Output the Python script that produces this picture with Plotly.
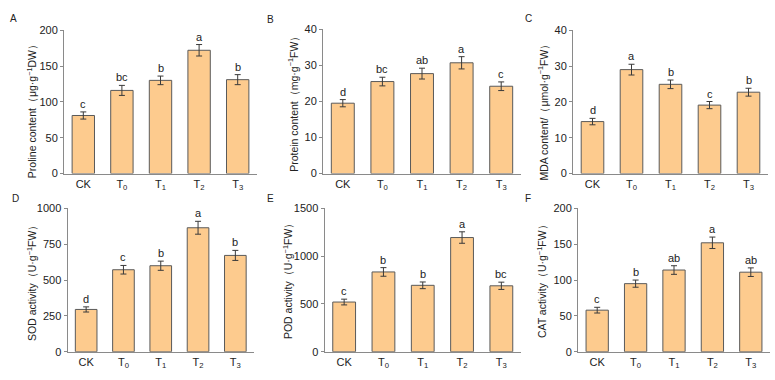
import plotly.graph_objects as go

categories = ["CK", "T<sub>0</sub>", "T<sub>1</sub>", "T<sub>2</sub>", "T<sub>3</sub>"]

proline = [81, 116, 130, 172, 131]
proline_err = [5, 7, 6, 8, 7]
proline_sig = ["c", "bc", "b", "a", "b"]

protein = [19.5, 25.5, 27.7, 30.7, 24.2]
protein_err = [1.0, 1.2, 1.5, 1.7, 1.2]
protein_sig = ["d", "bc", "ab", "a", "c"]

mda = [14.5, 29.0, 24.9, 19.1, 22.7]
mda_err = [0.9, 1.5, 1.2, 1.0, 1.1]
mda_sig = ["d", "a", "b", "c", "b"]

sod = [295, 572, 600, 865, 672]
sod_err = [18, 30, 32, 45, 35]
sod_sig = ["d", "c", "b", "a", "b"]

pod = [520, 835, 695, 1195, 690]
pod_err = [30, 45, 35, 60, 38]
pod_sig = ["c", "b", "b", "a", "bc"]

cat = [58, 95, 114, 152, 111]
cat_err = [4, 5, 6, 8, 6]
cat_sig = ["c", "b", "ab", "a", "ab"]

panels = [
    ("A", proline, proline_err, proline_sig, "Proline content（μg·g<sup>−1</sup>DW）", [0, 200], 50),
    ("B", protein, protein_err, protein_sig, "Protein content（mg·g<sup>−1</sup>FW）", [0, 40], 10),
    ("C", mda, mda_err, mda_sig, "MDA content/（μmol·g<sup>−1</sup>FW）", [0, 40], 10),
    ("D", sod, sod_err, sod_sig, "SOD activity（U·g<sup>−1</sup>FW）", [0, 1000], 250),
    ("E", pod, pod_err, pod_sig, "POD activity（U·g<sup>−1</sup>FW）", [0, 1500], 500),
    ("F", cat, cat_err, cat_sig, "CAT activity（U·g<sup>−1</sup>FW）", [0, 200], 50),
]

W, H = 775, 380
# pixel boxes: (x0, x1, ytop, ybottom)
boxes = [
    (64, 257, 25, 173),
    (323, 521, 24, 173),
    (573, 768, 25, 173),
    (67.5, 254, 209, 357),
    (324.5, 521, 209, 357),
    (578, 770, 209, 357),
]
label_pos = [(8, 13), (265, 14), (523, 13), (10, 199), (265, 199), (523, 199)]
title_pos = [(31.5, 106), (293, 99), (543, 107), (31, 284), (287, 282), (541, 282)]

fig = go.Figure()
font_family = "Liberation Sans, Arial, sans-serif"
annotations = []
for i, (lab, vals, errs, sig, title, rng, dt) in enumerate(panels):
    n = i + 1
    xa = "x" if n == 1 else f"x{n}"
    ya = "y" if n == 1 else f"y{n}"
    fig.add_trace(go.Bar(
        x=categories, y=vals, xaxis=xa, yaxis=ya,
        marker=dict(color="#FDCB8E", line=dict(color="#5a5a5a", width=1)),
        error_y=dict(type="data", array=errs, visible=True, color="#3a3a3a", thickness=1, width=3),
        width=0.58, showlegend=False, hoverinfo="skip",
    ))
    x0, x1, yt, yb = boxes[i]
    key = "" if n == 1 else str(n)
    fig.layout["xaxis" + key] = dict(
        domain=[x0 / W, x1 / W], anchor=ya, type="category", range=[-0.5, 4.5],
        showline=True, linecolor="#8a8a8a", linewidth=1, ticks="", showgrid=False,
        tickfont=dict(size=11, color="#222", family=font_family), fixedrange=True,
    )
    fig.layout["yaxis" + key] = dict(
        domain=[1 - yb / H, 1 - yt / H], anchor=xa, range=rng, dtick=dt,
        showline=True, linecolor="#8a8a8a", linewidth=1, ticks="outside", ticklen=3,
        tickcolor="#8a8a8a", showgrid=False, zeroline=False,
        tickfont=dict(size=11, color="#222", family=font_family),
    )
    for c, v, e, s in zip(categories, vals, errs, sig):
        annotations.append(dict(
            x=c, y=v + e, xref=xa, yref=ya, text=s, showarrow=False,
            yanchor="bottom", yshift=0, font=dict(size=11, color="#222", family=font_family),
        ))
    lx, ly = label_pos[i]
    annotations.append(dict(
        x=lx / W, y=1 - ly / H, xref="paper", yref="paper", text=lab, showarrow=False,
        xanchor="left", yanchor="middle", font=dict(size=10, color="#222", family=font_family),
    ))
    tx, ty = title_pos[i]
    annotations.append(dict(
        x=tx / W, y=1 - ty / H, xref="paper", yref="paper", text=title, showarrow=False,
        textangle=-90, xanchor="center", yanchor="middle",
        font=dict(size=10.5, color="#222", family=font_family),
    ))

fig.update_layout(
    width=W, height=H, margin=dict(l=0, r=0, t=0, b=0),
    paper_bgcolor="white", plot_bgcolor="white",
    annotations=annotations, bargap=0.42,
)

fig.write_html("out.html")
